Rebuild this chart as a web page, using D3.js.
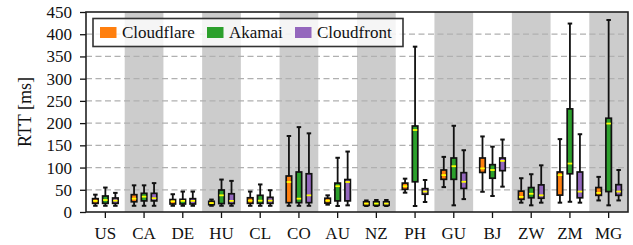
<!DOCTYPE html>
<html>
<head>
<meta charset="utf-8">
<script src="https://cdn.jsdelivr.net/npm/d3@7"></script>
<style>
  body { margin: 0; background: #fff; }
  svg text { font-family: "Liberation Serif", "Times New Roman", Times, "DejaVu Serif", serif; }
</style>
</head>
<body>
<div id="chart"></div>
<script>
// categories (countries)
const countries = ["US", "CA", "DE", "HU", "CL", "CO", "AU", "NZ", "PH", "GU", "BJ", "ZW", "ZM", "MG"];
const providers = ["Cloudflare", "Akamai", "Cloudfront"];
const yTicks = [0, 50, 100, 150, 200, 250, 300, 350, 400, 450];

// [low whisker, q1, median, q3, high whisker] in ms
const cloudflare = [
  [14, 19.5, 25, 30, 39], [14, 23, 30, 39, 60], [14, 18, 24, 28, 40], [14, 16.5, 20, 24, 28],
  [14, 19.5, 25.5, 32, 46], [14, 21, 67.5, 81, 171], [16.5, 20, 25.5, 31, 37.5], [13.5, 15, 19, 23, 26],
  [43.5, 51, 58, 65, 75], [56, 73.5, 83, 94.5, 124], [45.5, 89, 98, 121.5, 170], [21, 28.5, 34, 47, 76],
  [21, 38, 83, 90, 164], [26, 37.5, 43, 55, 79]
];
const akamai = [
  [14, 19.5, 27, 36, 55], [14, 25, 34.5, 42, 60], [14, 18, 25, 28.5, 46], [14, 19, 37.5, 49.5, 73],
  [14, 19.5, 25.5, 37.5, 62], [14, 21, 30, 90, 191], [13.5, 25, 58, 65, 122], [13.5, 15, 19, 23, 27],
  [13.5, 68, 184.5, 193.5, 372], [15, 73.5, 103, 121.5, 194], [36, 76, 94.5, 106.5, 147], [15, 32, 41, 55, 85],
  [23, 86, 109, 232, 424], [15, 46, 199, 211, 432]
];
const cloudfront = [
  [14, 19.5, 25.5, 31.5, 43], [14, 25, 31, 42, 65], [14, 18, 25, 30, 46], [14, 19, 25, 41, 70],
  [14, 19.5, 25.5, 33, 49], [14, 21, 37.5, 86, 177], [15, 25, 67.5, 73, 136], [13.5, 15, 19, 23, 27],
  [22.5, 40, 46, 52.5, 72], [29, 53, 68, 88.5, 139], [57, 93, 115, 121.5, 163], [21, 31, 37.5, 61, 105],
  [21, 32, 46, 90, 175], [26, 37.5, 46, 61.5, 94.5]
];
const colors = ["#ff7f0e", "#2ca02c", "#9467bd"];

const W = 633, H = 245;
const margin = {top: 12, right: 5, bottom: 33, left: 86};
const width = W - margin.left - margin.right,
      height = H - margin.top - margin.bottom;

const svg = d3.select("#chart").append("svg")
  .attr("width", W)
  .attr("height", H);
const g = svg.append("g")
  .attr("transform", "translate(" + margin.left + "," + margin.top + ")");

const x = d3.scaleBand().domain(countries).range([0, width]);
const y = d3.scaleLinear().domain([0, 450]).range([height, 0]);
// offset of each provider inside a country band
const sub = d3.scalePoint().domain(providers).range([-10, 10]);

// grey stripes on every other country
g.selectAll(".stripe")
  .data(countries.filter((d, i) => i % 2 === 1))
  .enter().append("rect")
  .attr("x", d => x(d))
  .attr("y", 0)
  .attr("width", x.bandwidth())
  .attr("height", height)
  .attr("fill", "#cccccc");

// dashed grid
g.selectAll(".grid")
  .data(yTicks.filter(d => d > 0 && d < 450))
  .enter().append("line")
  .attr("x1", 0).attr("x2", width)
  .attr("y1", d => y(d)).attr("y2", d => y(d))
  .attr("stroke", "#b0b0b0")
  .attr("stroke-width", 1.3)
  .attr("stroke-dasharray", "6,3.5");

// boxes
const series = [cloudflare, akamai, cloudfront];
const boxW = 5.5, capW = 4.5;
series.forEach((vals, p) => {
  const grp = g.append("g");
  vals.forEach((v, i) => {
    const cx = x(countries[i]) + x.bandwidth() / 2 + sub(providers[p]);
    const [lo, q1, med, q3, hi] = v;
    grp.append("line")
      .attr("x1", cx).attr("x2", cx)
      .attr("y1", y(hi)).attr("y2", y(lo))
      .attr("stroke", "#111").attr("stroke-width", 1.8);
    [lo, hi].forEach(w => {
      grp.append("line")
        .attr("x1", cx - capW / 2).attr("x2", cx + capW / 2)
        .attr("y1", y(w)).attr("y2", y(w))
        .attr("stroke", "#111").attr("stroke-width", 2);
    });
    grp.append("rect")
      .attr("x", cx - boxW / 2)
      .attr("y", y(q3))
      .attr("width", boxW)
      .attr("height", Math.max(y(q1) - y(q3), 0.5))
      .attr("fill", colors[p])
      .attr("stroke", "#111")
      .attr("stroke-width", 1.7);
    grp.append("line")
      .attr("x1", cx - boxW / 2 + 0.5).attr("x2", cx + boxW / 2 - 0.5)
      .attr("y1", y(med)).attr("y2", y(med))
      .attr("stroke", "#ffff00").attr("stroke-width", 1.8);
  });
});

// axes
const yAxis = g.append("g")
  .call(d3.axisLeft(y).tickValues(yTicks).tickSize(6).tickPadding(8));
const xAxis = g.append("g")
  .attr("transform", "translate(0," + height + ")")
  .call(d3.axisBottom(x).tickSize(6).tickPadding(9));
[yAxis, xAxis].forEach(a => {
  a.select(".domain").remove();
  a.attr("font-family", null);
  a.selectAll("line").attr("stroke", "#111").attr("stroke-width", 1.3);
  a.selectAll("text").attr("font-size", 17).attr("fill", "#111");
});

// frame
g.append("rect")
  .attr("width", width).attr("height", height)
  .attr("fill", "none")
  .attr("stroke", "#222")
  .attr("stroke-width", 1.6);

// y label
svg.append("text")
  .attr("transform", "translate(31," + (margin.top + height / 2) + ") rotate(-90)")
  .attr("text-anchor", "middle")
  .attr("font-size", 18)
  .attr("fill", "#111")
  .text("RTT [ms]");

// legend
const legend = svg.append("g");
legend.append("rect")
  .attr("x", 93).attr("y", 18.5)
  .attr("width", 310).attr("height", 28)
  .attr("fill", "#fff").attr("fill-opacity", 0.8)
  .attr("stroke", "#333").attr("stroke-width", 1.6);
const legX = [100, 207, 295];
providers.forEach((p, i) => {
  legend.append("rect")
    .attr("x", legX[i]).attr("y", 27)
    .attr("width", 16.5).attr("height", 11)
    .attr("fill", colors[i]);
  legend.append("text")
    .attr("x", legX[i] + 22).attr("y", 38)
    .attr("font-size", 17)
    .attr("fill", "#111")
    .text(p);
});
</script>
</body>
</html>
